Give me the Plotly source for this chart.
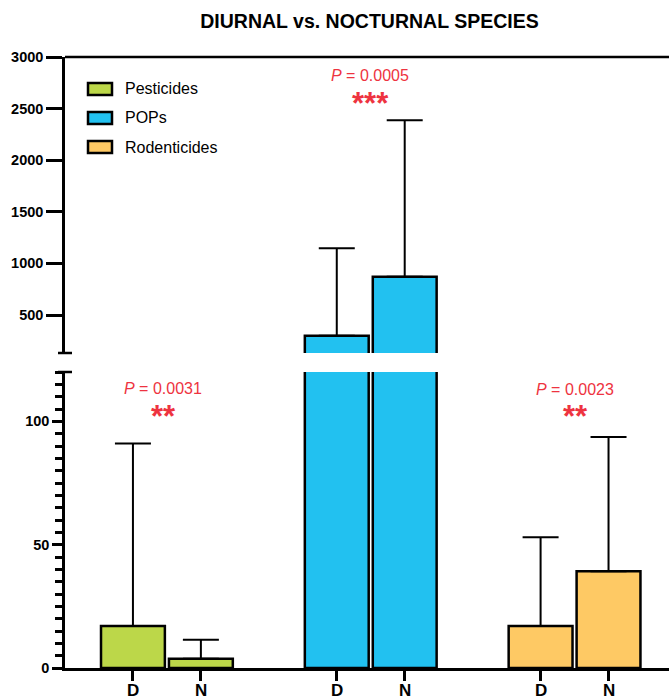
import plotly.graph_objects as go

# ---------------- data ----------------
categories = ["Pesticides", "POPs", "Rodenticides"]
groups = ["D", "N"]
means = {
    "Pesticides": [17, 3.7],
    "POPs": [300, 871],
    "Rodenticides": [17, 39.2],
}
upper = {  # mean + SD (top of error bar)
    "Pesticides": [91, 11.5],
    "POPs": [1148, 2388],
    "Rodenticides": [53, 93.6],
}
colors = {"Pesticides": "#bcd749", "POPs": "#22c1f0", "Rodenticides": "#fec964"}
p_values = ["0.0031", "0.0005", "0.0023"]
stars = ["**", "***", "**"]

# ---------------- geometry helpers ----------------
W, H = 669, 700
ML, MR, MT, MB = 65, 0, 57, 32
PW, PH = W - ML - MR, H - MT - MB


def px_x(x):
    return (x - ML) / PW


def px_y(y):
    return (H - MB - y) / PH


bottom_dom = [0, px_y(372)]
top_dom = [px_y(353), 1]

FONT = "Liberation Sans, Arial, Helvetica, sans-serif"
fig = go.Figure()

xpos_all = []
xtext = []
for gi, cat in enumerate(categories):
    xs = [gi * 3 + j for j in range(len(groups))]
    xpos_all += xs
    xtext += groups
    err = [u - m for u, m in zip(upper[cat], means[cat])]
    for yax in ["y", "y2"]:
        fig.add_trace(go.Bar(
            x=xs, y=means[cat], yaxis=yax, width=0.94,
            marker=dict(color=colors[cat], line=dict(color="black", width=2.5)),
            error_y=dict(type="data", array=err, arrayminus=[0] * len(err),
                         symmetric=False, color="black", thickness=2, width=18),
            showlegend=False, name=cat,
        ))

axis_common = dict(showline=True, linecolor="black", linewidth=2.5,
                   ticks="outside", tickcolor="black", tickwidth=2.5,
                   showgrid=False, zeroline=False, automargin=False,
                   tickfont=dict(family=FONT, size=14.5, color="black", weight="bold"))

fig.update_layout(
    width=W, height=H,
    margin=dict(l=ML, r=MR, t=MT, b=MB),
    plot_bgcolor="white", paper_bgcolor="white",
    barmode="overlay",
    title=dict(text="DIURNAL vs. NOCTURNAL SPECIES", x=369.5 / W, xanchor="center",
               y=1 - 21.5 / H, yanchor="middle", yref="container",
               font=dict(family=FONT, size=19.5, color="black", weight="bold")),
    xaxis=dict(range=[-1, 7.89], tickvals=xpos_all, ticktext=xtext, ticklen=10,
               showticklabels=False, anchor="y", **axis_common),
    yaxis=dict(domain=bottom_dom, range=[0, 120], tickvals=[0, 50, 100], ticklen=10,
               minor=dict(dtick=5, ticks="outside", ticklen=7, tickwidth=2.5, tickcolor="black"),
               anchor="x", **axis_common),
    yaxis2=dict(domain=top_dom, range=[132, 3000], tickvals=[500, 1000, 1500, 2000, 2500, 3000],
                ticklen=16, anchor="x", **axis_common),
)

shapes = []
annotations = []
# x tick labels (drawn as annotations so they sit close to the axis)
for xv, tx in zip(xpos_all, xtext):
    annotations.append(dict(text=f"<b>{tx}</b>", xref="x", yref="paper", x=xv, y=px_y(690),
                            xanchor="center", yanchor="middle", showarrow=False,
                            font=dict(family=FONT, size=17, color="black")))
# top frame line
shapes.append(dict(type="line", xref="paper", yref="paper", x0=0, x1=1, y0=1, y1=1,
                   line=dict(color="black", width=2.5)))
# axis break caps
for yy in [372, 353]:
    shapes.append(dict(type="line", xref="paper", yref="paper",
                       x0=px_x(58), x1=px_x(72), y0=px_y(yy), y1=px_y(yy),
                       line=dict(color="black", width=2.5)))
# legend swatches
leg_y = [89, 118, 147]
for cat, yy in zip(categories, leg_y):
    shapes.append(dict(type="rect", xref="paper", yref="paper",
                       x0=px_x(88), x1=px_x(112), y0=px_y(yy + 6), y1=px_y(yy - 6),
                       fillcolor=colors[cat], line=dict(color="black", width=2.5)))
    annotations.append(dict(text=cat, xref="paper", yref="paper", x=px_x(123), y=px_y(yy),
                            xanchor="left", yanchor="middle", showarrow=False,
                            font=dict(family=FONT, size=16, color="black")))

# significance annotations (pixel positions)
red = "#ee3340"
ann_pos = [(163, 388, 410), (370, 76, 98), (575, 389, 410)]
for (xc, yp, ys), pv, st in zip(ann_pos, p_values, stars):
    annotations.append(dict(text=f"<i>P</i> = {pv}", xref="paper", yref="paper",
                            x=px_x(xc), y=px_y(yp), xanchor="center", yanchor="middle",
                            showarrow=False, font=dict(family=FONT, size=16, color=red)))
    annotations.append(dict(text=st, xref="paper", yref="paper",
                            x=px_x(xc), y=px_y(ys + 6), xanchor="center", yanchor="middle",
                            showarrow=False, font=dict(family=FONT, size=31, color=red, weight="bold")))

fig.update_layout(shapes=shapes, annotations=annotations)
fig.write_html("out.html")
